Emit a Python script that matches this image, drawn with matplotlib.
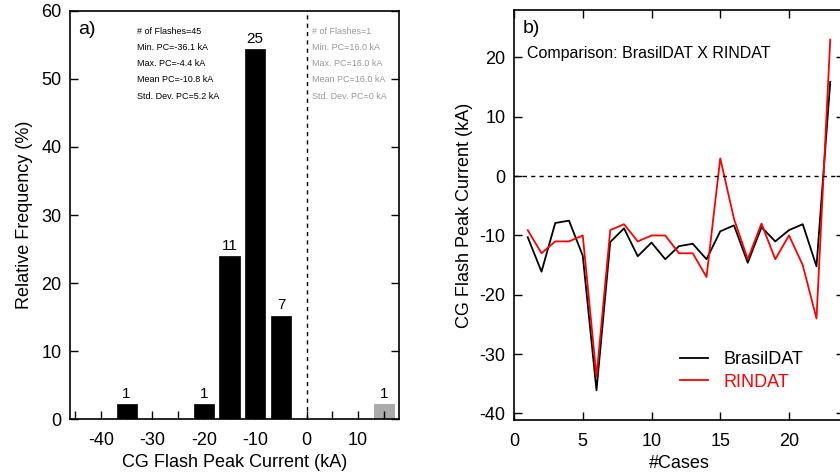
import matplotlib
matplotlib.use("Agg")
import matplotlib.pyplot as plt
import numpy as np

plt.rcParams['font.family'] = ['Liberation Sans', 'DejaVu Sans']
plt.rcParams['axes.unicode_minus'] = False

# ---- Panel a data ----
bin_centers_neg = [-35, -20, -15, -10, -5]
counts_neg = [1, 1, 11, 25, 7]
bin_centers_pos = [15]
counts_pos = [1]
n_total = 46
stats_neg = ["# of Flashes=45", "Min. PC=-36.1 kA", "Max. PC=-4.4 kA",
             "Mean PC=-10.8 kA", "Std. Dev. PC=5.2 kA"]
stats_pos = ["# of Flashes=1", "Min. PC=16.0 kA", "Max. PC=16.0 kA",
             "Mean PC=16.0 kA", "Std. Dev. PC=0 kA"]

# ---- Panel b data ----
cases = list(range(1, 24))
brasildat = [-10.3, -16.1, -7.9, -7.5, -13.4, -36.1, -11.1, -8.8, -13.5, -11.2,
             -14.0, -11.8, -11.4, -14.0, -9.3, -8.3, -14.6, -8.6, -11.0, -9.1,
             -8.1, -15.2, 15.9]
rindat = [-9.1, -13.0, -11.0, -11.0, -10.0, -33.8, -9.1, -8.1, -11.0, -10.0,
          -10.0, -13.0, -13.0, -17.0, 3.0, -7.2, -14.0, -8.0, -14.0, -10.0,
          -15.0, -24.0, 23.0]

fig = plt.figure(figsize=(8.4, 4.76), dpi=100)

# ---------------- Panel a ----------------
axa = fig.add_axes([70/840, (476-419.3)/476, 329.3/840, 408.6/476])
freq_neg = [c / n_total * 100 for c in counts_neg]
freq_pos = [c / n_total * 100 for c in counts_pos]
axa.bar(bin_centers_neg, freq_neg, width=3.9, color='black', edgecolor='black', linewidth=0.5)
axa.bar(bin_centers_pos, freq_pos, width=3.9, color='#aaaaaa', edgecolor='#999999', linewidth=0.5)
for x, f, c in zip(bin_centers_neg + bin_centers_pos, freq_neg + freq_pos, counts_neg + counts_pos):
    axa.text(x, f + 0.5, str(c), ha='center', va='bottom', fontsize=11)
axa.axvline(0, color='black', linestyle=(0, (3, 3)), linewidth=1)
axa.set_xlim(-46, 18)
axa.set_ylim(0, 60)
axa.set_xticks([-40, -30, -20, -10, 0, 10])
axa.set_xticks(np.arange(-45, 18, 5), minor=True)
axa.set_yticks(range(0, 61, 10))
axa.tick_params(axis='both', which='both', direction='in', length=6, width=1, labelsize=13)
axa.tick_params(axis='x', which='major', pad=9)
axa.tick_params(axis='y', which='major', pad=6)
axa.tick_params(axis='y', right=True, left=True)
axa.tick_params(axis='x', top=False, which='both')
axa.set_xlabel("CG Flash Peak Current (kA)", fontsize=13, labelpad=4)
axa.set_ylabel("Relative Frequency (%)", fontsize=13, labelpad=6)
for s in axa.spines.values():
    s.set_linewidth(1.2)
axa.text(0.025, 0.975, "a)", transform=axa.transAxes, fontsize=14, va='top', ha='left')
for i, line in enumerate(stats_neg):
    axa.text(137, 476 - (31 + i * 16.3), line, transform=None, fontsize=6.5, va='center', ha='left')
for i, line in enumerate(stats_pos):
    axa.text(312, 476 - (31 + i * 16.3), line, transform=None, fontsize=6.5, va='center', ha='left', color='#999999')

# ---------------- Panel b ----------------
axb = fig.add_axes([514/840, (476-420)/476, 330/840, 410/476])
axb.plot(cases, brasildat, color='black', linewidth=1.3, label='BrasilDAT')
axb.plot(cases, rindat, color='#ff0000', linewidth=1.3, label='RINDAT')
axb.axhline(0, color='black', linestyle=(0, (3, 3)), linewidth=1)
axb.set_xlim(0, 24)
axb.set_ylim(-41.1, 28)
axb.set_xticks(range(0, 24, 5))
axb.set_yticks(range(-40, 21, 10))
axb.tick_params(axis='both', direction='in', length=6, width=1, labelsize=13,
                top=True, right=True)
axb.tick_params(axis='x', pad=9)
axb.tick_params(axis='y', pad=6)
axb.set_xlabel("#Cases", fontsize=13, labelpad=4)
axb.set_ylabel("CG Flash Peak Current (kA)", fontsize=13, labelpad=5)
for s in axb.spines.values():
    s.set_linewidth(1.2)
axb.text(0.025, 0.975, "b)", transform=axb.transAxes, fontsize=14, va='top', ha='left')
axb.text(0.04, 0.895, "Comparison: BrasilDAT X RINDAT", transform=axb.transAxes,
         fontsize=11.5, va='center', ha='left')
leg = axb.legend(loc='upper left', bbox_to_anchor=(0.503, 0.168), frameon=False,
                 fontsize=13, handlelength=1.55, handletextpad=0.85, labelspacing=0.3,
                 borderpad=0, borderaxespad=0)
for txt, ln in zip(leg.get_texts(), leg.get_lines()):
    txt.set_color(ln.get_color())

fig.savefig("out.png", dpi=100)
